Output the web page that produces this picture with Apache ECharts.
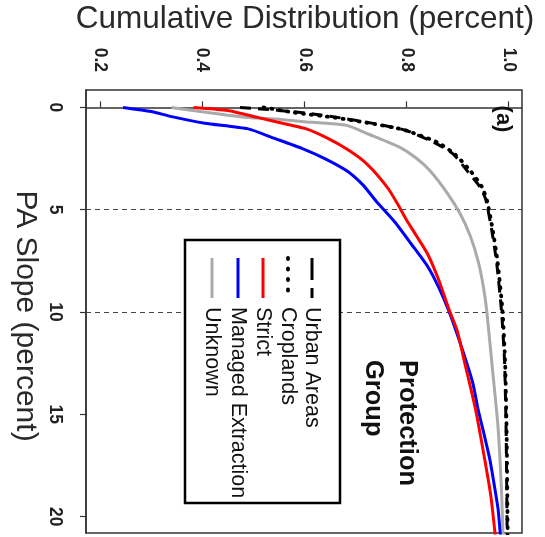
<!DOCTYPE html>
<html>
<head>
<meta charset="utf-8">
<script src="https://cdn.jsdelivr.net/npm/echarts@6/dist/echarts.min.js"></script>
<style>
html,body{margin:0;padding:0;background:#fff;}
#chart{width:545px;height:537px;}
</style>
</head>
<body>
<div id="chart"></div>
<script>
// Slope (percent) values and cumulative distribution values, one pair of arrays per group
const urbanSlope = [0, 0.15, 0.32, 0.56, 0.81, 1.13, 1.78, 2.27, 3.08, 3.9, 4.5, 5.9, 7.5, 10, 12.5, 16, 21];
const urbanCum   = [0.474, 0.552, 0.617, 0.683, 0.741, 0.800, 0.859, 0.891, 0.918, 0.944, 0.955, 0.966, 0.976, 0.986, 0.992, 0.995, 0.997];

const cropSlope = [0, 0.25, 0.5, 0.8, 1.1, 1.7, 2.3, 3.1, 3.9, 4.6, 5.9, 7.5, 10, 12.5, 16, 21];
const cropCum   = [0.52, 0.58, 0.66, 0.735, 0.795, 0.86, 0.895, 0.925, 0.948, 0.958, 0.968, 0.978, 0.988, 0.993, 0.996, 0.998];

const strictSlope = [0, 0.15, 0.5, 0.85, 1.05, 1.5, 2.03, 2.6, 3.25, 4.0, 4.7, 5.5, 6.3, 7.2, 8.5, 9.8, 10.9, 12.5, 14.75, 17.2, 19.0, 21];
const strictCum   = [0.383, 0.45, 0.51, 0.57, 0.604, 0.645, 0.683, 0.715, 0.741, 0.765, 0.782, 0.800, 0.820, 0.842, 0.864, 0.882, 0.899, 0.914, 0.935, 0.953, 0.965, 0.974];

const managedSlope = [0, 0.2, 0.45, 0.77, 1.05, 1.5, 2.0, 2.5, 3.1, 3.8, 4.6, 5.6, 6.7, 7.8, 8.8, 9.9, 11.0, 12.5, 13.5, 14.75, 16.0, 17.2, 18.5, 19.6, 21];
const managedCum   = [0.245, 0.30, 0.34, 0.405, 0.49, 0.54, 0.595, 0.64, 0.683, 0.715, 0.741, 0.777, 0.81, 0.842, 0.863, 0.882, 0.898, 0.918, 0.930, 0.940, 0.952, 0.963, 0.972, 0.979, 0.984];

const unknownSlope = [0, 0.48, 0.6, 0.7, 0.88, 1.3, 1.95, 2.5, 3.1, 4.2, 5.2, 6.3, 7.5, 8.7, 9.95, 12.5, 15.6, 18.8, 21];
const unknownCum   = [0.34, 0.484, 0.56, 0.60, 0.683, 0.725, 0.787, 0.82, 0.846, 0.88, 0.905, 0.925, 0.940, 0.950, 0.957, 0.967, 0.979, 0.986, 0.989];

const cumTicks = [0.2, 0.4, 0.6, 0.8, 1.0];
const slopeTicks = [0, 5, 10, 15, 20];
const refSlopes = [5, 10];
const legendNames = ['Urban Areas', 'Croplands', 'Strict', 'Managed Extraction', 'Unknown'];

function pairs(s, c) { return s.map((v, i) => [c[i], v]); }

const FONT = '"Liberation Sans", Arial, sans-serif';
const colors = ['#000000', '#000000', '#ff0000', '#0000ff', '#aaaaaa'];
const dashes = [[11, 7], [1, 7], 'solid', 'solid', 'solid'];
const legendDashes = [[22, 8], [1, 9.5], null, null, null];
const caps = ['butt', 'round', 'butt', 'butt', 'butt'];
const widths = [3, 3.8, 3, 3, 3];
const seriesData = [
  pairs(urbanSlope, urbanCum),
  pairs(cropSlope, cropCum),
  pairs(strictSlope, strictCum),
  pairs(managedSlope, managedCum),
  pairs(unknownSlope, unknownCum)
];

const series = seriesData.map((d, i) => ({
  type: 'line',
  name: legendNames[i],
  data: d,
  showSymbol: false,
  smooth: 0.2,
  clip: true,
  z: 10 - i,
  lineStyle: { color: colors[i], width: widths[i], type: dashes[i], cap: caps[i] },
  itemStyle: { color: colors[i] }
}));
series[0].markLine = {
  silent: true,
  symbol: ['none', 'none'],
  label: { show: false },
  lineStyle: { color: '#444', width: 1.2, type: [5, 4] },
  data: refSlopes.map(v => ({ yAxis: v }))
};

const R = -Math.PI / 2;
const graphics = [];
graphics.push({ type: 'text', x: 305, y: 19, z: 100,
  style: { text: 'Cumulative Distribution (percent)', font: '31.5px ' + FONT, fill: '#2a2a2a', align: 'center', verticalAlign: 'middle' } });
graphics.push({ type: 'text', x: 25, y: 316, rotation: R, z: 100,
  style: { text: 'PA Slope (percent)', font: '30px ' + FONT, fill: '#2a2a2a', align: 'center', verticalAlign: 'middle' } });
graphics.push({ type: 'text', x: 503, y: 119, rotation: R, z: 100,
  style: { text: '(a)', font: 'bold 22px ' + FONT, fill: '#111', align: 'center', verticalAlign: 'middle' } });
graphics.push({ type: 'rect', z: 90, shape: { x: 185, y: 240, width: 155, height: 263 },
  style: { fill: '#fff', stroke: '#000', lineWidth: 2.5 } });
const colX = [312, 288, 263, 238, 212];
legendNames.forEach((n, i) => {
  graphics.push({ type: 'line', z: 100, shape: { x1: colX[i], y1: 258, x2: colX[i], y2: 298 },
    style: { stroke: colors[i], lineWidth: widths[i], lineDash: legendDashes[i], lineCap: caps[i] } });
  graphics.push({ type: 'text', x: colX[i], y: 307, rotation: R, z: 100,
    style: { text: n, font: '21.5px ' + FONT, fill: '#111', align: 'left', verticalAlign: 'middle' } });
});
graphics.push({ type: 'text', x: 407, y: 360, rotation: R, z: 100,
  style: { text: 'Protection', font: 'bold 25.5px ' + FONT, fill: '#111', align: 'left', verticalAlign: 'middle' } });
graphics.push({ type: 'text', x: 373, y: 360, rotation: R, z: 100,
  style: { text: 'Group', font: 'bold 25.5px ' + FONT, fill: '#111', align: 'left', verticalAlign: 'middle' } });

const chart = echarts.init(document.getElementById('chart'), null, { renderer: 'canvas' });
chart.setOption({
  animation: false,
  backgroundColor: '#fff',
  grid: { left: 86, top: 90, right: 23, bottom: 4, show: true, borderColor: '#333', borderWidth: 1.5, backgroundColor: 'transparent' },
  xAxis: {
    type: 'value', position: 'top', min: 0.1726, max: 1.026,
    splitLine: { show: false },
    axisLine: { show: true, lineStyle: { color: '#333', width: 1.5 } },
    axisTick: { show: true, length: 6, customValues: cumTicks, lineStyle: { color: '#333', width: 1.2 } },
    axisLabel: { show: true, rotate: -90, margin: 18, customValues: cumTicks, formatter: v => v.toFixed(1),
      fontFamily: 'Liberation Sans', fontSize: 17.5, fontWeight: 'bold', color: '#222' }
  },
  yAxis: {
    type: 'value', inverse: true, min: -0.85, max: 20.8,
    splitLine: { show: false },
    axisLine: { show: true, lineStyle: { color: '#333', width: 1.5 } },
    axisTick: { show: true, length: 6, customValues: slopeTicks, lineStyle: { color: '#333', width: 1.2 } },
    axisLabel: { show: true, rotate: -90, margin: 22, customValues: slopeTicks, formatter: v => String(v),
      fontFamily: 'Liberation Sans', fontSize: 17.5, fontWeight: 'bold', color: '#222' }
  },
  series: series,
  graphic: graphics
});
</script>
</body>
</html>
